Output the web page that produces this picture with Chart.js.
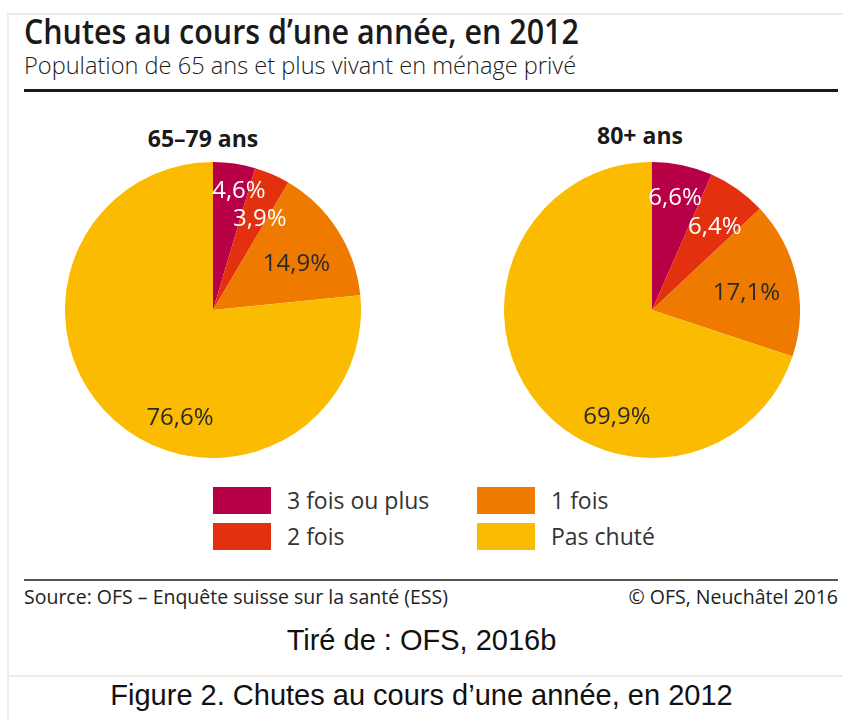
<!DOCTYPE html>
<html>
<head>
<meta charset="utf-8">
<script src="https://cdn.jsdelivr.net/npm/chart.js@4.4.1/dist/chart.umd.min.js"></script>
<style>
  html, body { margin: 0; padding: 0; background: #fff; }
  body { width: 843px; height: 720px; position: relative; overflow: hidden; }
  .frame-left { position: absolute; left: 7px; top: 14px; width: 2px; height: 706px; background: #efebe0; }
  .frame-top { position: absolute; left: 7px; top: 13px; width: 836px; height: 2px; background: #efebe0; }
  .frame-mid { position: absolute; left: 7px; top: 675px; width: 836px; height: 2px; background: #efebe0; }
  .ofs { font-family: "Open Sans", "Noto Sans", sans-serif; white-space: nowrap; color: #1a1a1a; }
  #title { position: absolute; left: 24px; top: 8px; font-size: 34px; font-weight: 600; transform: scaleX(0.895); transform-origin: 0 0; }
  #subtitle { position: absolute; left: 24px; top: 49px; font-size: 23.6px; font-weight: 300; }
  .rule { position: absolute; left: 24px; width: 814px; }
  #ruleTop { top: 89px; height: 3px; background: #1a1a1a; }
  #ruleBottom { top: 579px; height: 2px; background: #555; }
  .pieTitle { position: absolute; width: 300px; text-align: center; font-weight: 700; font-size: 23px; }
  canvas { position: absolute; }
  #legend { position: absolute; left: 213px; top: 487px; font-size: 23px; color: #333; }
  .item { position: absolute; }
  .swatch { position: absolute; left: 0; top: 0; width: 58px; height: 27px; }
  .item span { position: absolute; left: 74px; top: -3px; }
  #source { position: absolute; left: 24px; top: 583px; font-size: 19.5px; color: #222; }
  #copy { position: absolute; right: 5px; top: 583px; font-size: 19.5px; color: #222; }
  .caption { position: absolute; left: 0; width: 843px; text-align: center; font-family: "Liberation Sans", Arial, sans-serif; font-size: 29px; color: #111; }
</style>
</head>
<body>
<div class="frame-left"></div>
<div class="frame-top"></div>
<div class="frame-mid"></div>

<div id="title" class="ofs">Chutes au cours d’une année, en 2012</div>
<div id="subtitle" class="ofs">Population de 65 ans et plus vivant en ménage privé</div>
<div class="rule" id="ruleTop"></div>

<div class="pieTitle ofs" id="t1" style="left:53px; top:122px;"></div>
<div class="pieTitle ofs" id="t2" style="left:490px; top:119px;"></div>
<canvas id="pie1" width="296" height="296" style="left:65px; top:162px;"></canvas>
<canvas id="pie2" width="296" height="296" style="left:504px; top:162px;"></canvas>

<div id="legend" class="ofs"></div>

<div class="rule" id="ruleBottom"></div>
<div id="source" class="ofs">Source: OFS – Enquête suisse sur la santé (ESS)</div>
<div id="copy" class="ofs">© OFS, Neuchâtel 2016</div>

<div class="caption" style="top:624px;">Tiré de : OFS, 2016b</div>
<div class="caption" style="top:679px;">Figure 2. Chutes au cours d’une année, en 2012</div>

<script>
// data
var categories = ['3 fois ou plus', '2 fois', '1 fois', 'Pas chuté'];
var groups = ['65–79 ans', '80+ ans'];
var values6579 = [4.6, 3.9, 14.9, 76.6];
var values80 = [6.6, 6.4, 17.1, 69.9];

var colors = ['#b80046', '#e3300f', '#ee7a00', '#fbbb00'];
var labelColors = ['#ffffff', '#ffffff', '#2a2a2a', '#2a2a2a'];

// where each label sits inside its slice: fraction of the slice angle, fraction of the radius
var labelPos6579 = [[0.73, 0.836], [0.73, 0.70], [0.55, 0.65], [0.41, 0.75]];
var labelPos80 = [[0.48, 0.785], [0.55, 0.715], [0.525, 0.65], [0.358, 0.75]];

document.getElementById('t1').textContent = groups[0];
document.getElementById('t2').textContent = groups[1];

// custom legend, two columns
var legend = document.getElementById('legend');
var legendSlots = [[0, 0], [0, 36], [264, 0], [264, 36]];
categories.forEach(function (cat, i) {
    var item = document.createElement('div');
    item.className = 'item';
    item.style.left = legendSlots[i][0] + 'px';
    item.style.top = legendSlots[i][1] + 'px';
    item.innerHTML = '<div class="swatch" style="background:' + colors[i] + '"></div><span>' + cat + '</span>';
    legend.appendChild(item);
});

function formatPercent(v) {
    return v.toFixed(1).replace('.', ',') + '%';
}

// draws the percentage inside each slice (digits centred on the point)
var sliceLabels = {
    id: 'sliceLabels',
    afterDatasetsDraw: function (chart, args, opts) {
        var ctx = chart.ctx;
        var meta = chart.getDatasetMeta(0);
        var data = chart.data.datasets[0].data;
        var size = 24;
        ctx.save();
        ctx.font = size + 'px "Open Sans", "Noto Sans", sans-serif';
        ctx.textAlign = 'center';
        ctx.textBaseline = 'alphabetic';
        meta.data.forEach(function (arc, i) {
            var p = arc.getProps(['x', 'y', 'startAngle', 'endAngle', 'outerRadius'], true);
            var a = p.startAngle + (p.endAngle - p.startAngle) * opts.pos[i][0];
            var r = p.outerRadius * opts.pos[i][1];
            ctx.fillStyle = labelColors[i];
            ctx.fillText(formatPercent(data[i]), p.x + Math.cos(a) * r, p.y + Math.sin(a) * r + size * 0.36);
        });
        ctx.restore();
    }
};

function makePie(id, values, pos) {
    var ctx = document.getElementById(id).getContext('2d');
    return new Chart(ctx, {
        type: 'pie',
        data: {
            labels: categories,
            datasets: [{
                data: values,
                backgroundColor: colors,
                borderWidth: 0
            }]
        },
        options: {
            responsive: false,
            animation: false,
            events: [],
            layout: { padding: 0 },
            plugins: {
                legend: { display: false },
                tooltip: { enabled: false },
                sliceLabels: { pos: pos }
            }
        },
        plugins: [sliceLabels]
    });
}

makePie('pie1', values6579, labelPos6579);
makePie('pie2', values80, labelPos80);
</script>
</body>
</html>
